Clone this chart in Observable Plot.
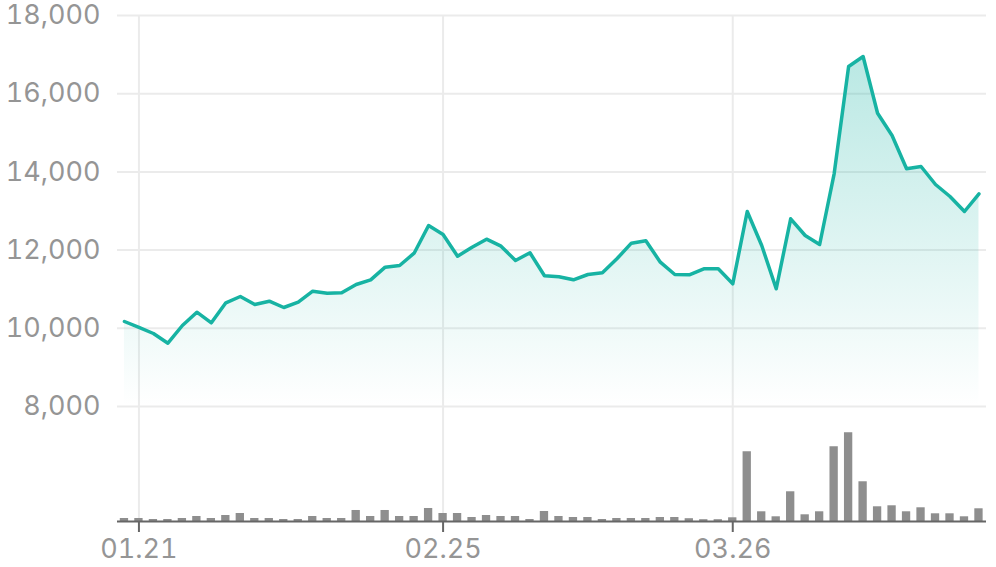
<!DOCTYPE html>
<html>
<head>
<meta charset="utf-8">
<script src="https://cdn.jsdelivr.net/npm/d3@7"></script>
<script src="https://cdn.jsdelivr.net/npm/@observablehq/plot@0.6"></script>
<style>
html, body { margin: 0; padding: 0; background: #fff; }
</style>
</head>
<body>
<div id="chart"></div>
<script>
const closes = [10174, 10021, 9867, 9619, 10072, 10412, 10141, 10652, 10813, 10609,
  10693, 10532, 10668, 10949, 10898, 10908, 11120, 11240, 11563, 11606,
  11921, 12629, 12399, 11844, 12074, 12279, 12100, 11734, 11931, 11343,
  11317, 11240, 11376, 11420, 11778, 12177, 12238, 11691, 11376, 11368,
  11522, 11522, 11138, 12987, 12118, 11010, 12801, 12374, 12143, 13951,
  16696, 16951, 15501, 14931, 14079, 14138, 13678, 13371, 12987, 13440];
const volumes = [30, 30, 20, 20, 30, 50, 30, 60, 80, 30,
  30, 20, 20, 50, 30, 30, 110, 50, 110, 50,
  50, 130, 80, 80, 40, 60, 50, 50, 20, 100,
  50, 40, 40, 20, 30, 30, 30, 40, 40, 28,
  18, 18, 37, 697, 97, 47, 297, 67, 97, 747,
  887, 397, 147, 157, 97, 137, 77, 77, 47, 127];
const tickIndex = [1, 22, 42];
const tickText = ["01.21", "02.25", "03.26"];
const yTicks = [8000, 10000, 12000, 14000, 16000, 18000];

const yMin = 5059, yMax = 18000, areaBase = 8000, volSpan = 2270;
const vMax = d3.max(volumes);
const data = closes.map((v, i) => ({i, v, vol: volumes[i]}));

const teal = "#17b3a3";
const defs = () => {
  const ns = "http://www.w3.org/2000/svg";
  const d = document.createElementNS(ns, "defs");
  const g = document.createElementNS(ns, "linearGradient");
  g.setAttribute("id", "fillGrad");
  g.setAttribute("x1", "0"); g.setAttribute("y1", "0");
  g.setAttribute("x2", "0"); g.setAttribute("y2", "1");
  [[0, 0.3], [1, 0]].forEach(([o, a]) => {
    const s = document.createElementNS(ns, "stop");
    s.setAttribute("offset", o);
    s.setAttribute("stop-color", teal);
    s.setAttribute("stop-opacity", a);
    g.appendChild(s);
  });
  d.appendChild(g);
  return d;
};

const font = "Inter, Roboto, sans-serif";
const chart = Plot.plot({
  width: 996,
  height: 567,
  marginTop: 15,
  marginBottom: 46,
  marginLeft: 117,
  marginRight: 10,
  x: {type: "linear", domain: [-0.48, 59.52], axis: null},
  y: {domain: [yMin, yMax], axis: null},
  style: {fontFamily: font, background: "#fff", overflow: "visible"},
  marks: [
    defs,
    Plot.gridY(yTicks, {stroke: "#ebebeb", strokeOpacity: 1, strokeWidth: 2}),
    Plot.gridX(tickIndex, {stroke: "#ebebeb", strokeOpacity: 1, strokeWidth: 2}),
    Plot.areaY(data, {x: "i", y1: areaBase, y2: "v", fill: "url(#fillGrad)"}),
    Plot.line(data, {x: "i", y: "v", stroke: teal, strokeWidth: 3.5}),
    Plot.rectY(data, {
      x1: d => d.i - 0.287, x2: d => d.i + 0.287,
      y1: yMin, y2: d => yMin + d.vol / vMax * volSpan,
      fill: "#8e8e8e"
    }),
    Plot.ruleY([yMin], {stroke: "#666", strokeWidth: 2}),
    Plot.axisY(yTicks, {label: null, tickSize: 0, tickPadding: 17, tickFormat: d3.format(","), fontSize: 27, color: "#959595"}),
    Plot.axisX(tickIndex, {label: null, tickSize: 11, color: "#666", strokeWidth: 2, tickFormat: () => ""}),
    Plot.axisX(tickIndex, {label: null, tickSize: 0, tickPadding: 17, color: "#959595", fontSize: 27,
      tickFormat: d => tickText[tickIndex.indexOf(d)]})
  ]
});
document.getElementById("chart").appendChild(chart);
</script>
</body>
</html>
